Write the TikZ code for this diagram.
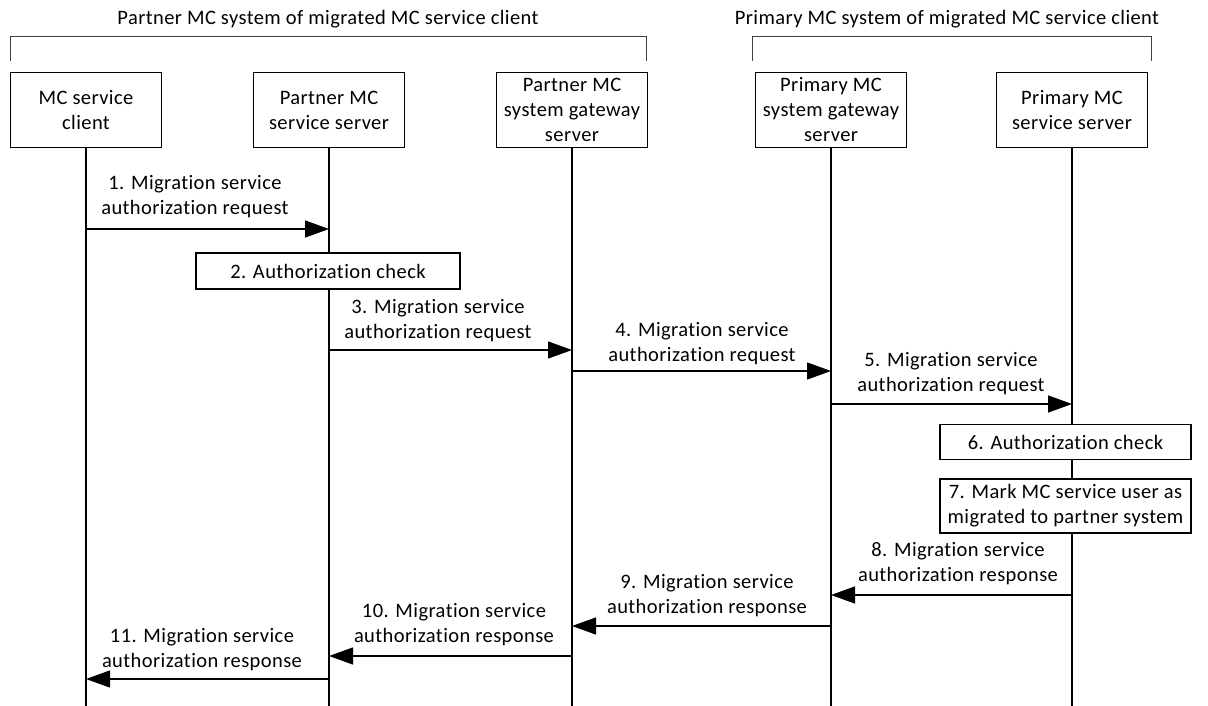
\documentclass[tikz,border=0pt]{standalone}
\usepackage{fontspec}
\setmainfont{Carlito}[Ligatures=NoCommon,LetterSpace=2]
\usetikzlibrary{arrows.meta}
\begin{document}
\begin{tikzpicture}[x=1pt,y=-1pt,
 every node/.style={font=\fontsize{20.5}{25}\selectfont},
 actor/.style={draw, line width=1.3pt, minimum width=151pt, minimum height=75pt, align=center, inner sep=0pt, fill=white},
 stepbox/.style={draw, line width=1.3pt, align=center, inner sep=0pt, fill=white},
 lbl/.style={align=center, inner sep=0pt},
 life/.style={line width=1.3pt},
 msg/.style={line width=1.3pt, -{Triangle[length=24pt,width=17pt]}},
 brace/.style={line width=0.8pt, draw=black!75}]
\useasboundingbox (0,0) rectangle (1208,706);
\coordinate (bot) at (0,706);

% titles and brackets
\node (t1) at (328,19) {Partner MC system of migrated MC service client};
\node (t2) at (947,19) {Primary MC system of migrated MC service client};
\draw[brace] (10,61) -- (10,36) -- (646,36) -- (646,61);
\draw[brace] (752,61) -- (752,36) -- (1151,36) -- (1151,61);

% actors
\node[actor] (a1) at (86,110) {MC service\\client};
\node[actor] (a2) at (329,110) {Partner MC\\service server};
\node[actor] (a3) at (572,110) {\raisebox{-2pt}{\parbox{150pt}{\centering Partner MC\\system gateway\\server}}};
\node[actor] (a4) at (831,110) {\raisebox{-2pt}{\parbox{150pt}{\centering Primary MC\\system gateway\\server}}};
\node[actor] (a5) at (1072,110) {Primary MC\\service server};

% lifelines
\foreach \n in {a1,a2,a3,a4,a5}{\draw[life] (\n.south) -- (\n.south |- bot);}

% messages
\draw[msg] (a1.south |- 0,229) -- (a2.south |- 0,229);
\node[lbl] (m1) at (195,197) {1. Migration service\\authorization request};

\node[stepbox, minimum width=264pt, minimum height=36pt] (s2) at (328,271) {2. Authorization check};

\draw[msg] (a2.south |- 0,350) -- (a3.south |- 0,350);
\node[lbl] (m3) at (438,321) {3. Migration service\\authorization request};

\draw[msg] (a3.south |- 0,371) -- (a4.south |- 0,371);
\node[lbl] (m4) at (702,344) {4. Migration service\\authorization request};

\draw[msg] (a4.south |- 0,404) -- (a5.south |- 0,404);
\node[lbl] (m5) at (951,374) {5. Migration service\\authorization request};

\node[stepbox, minimum width=251pt, minimum height=35pt] (s6) at (1065.5,442) {6. Authorization check};
\node[stepbox, minimum width=251pt, minimum height=54pt] (s7) at (1065.5,506) {7. Mark MC service user as\\migrated to partner system};

\draw[msg] (a5.south |- 0,595) -- (a4.south |- 0,595);
\node[lbl] (m8) at (958,564) {8. Migration service\\authorization response};

\draw[msg] (a4.south |- 0,626) -- (a3.south |- 0,626);
\node[lbl] (m9) at (707,596) {9. Migration service\\authorization response};

\draw[msg] (a3.south |- 0,656) -- (a2.south |- 0,656);
\node[lbl] (m10) at (454,625) {10. Migration service\\authorization response};

\draw[msg] (a2.south |- 0,679) -- (a1.south |- 0,679);
\node[lbl] (m11) at (202,650) {11. Migration service\\authorization response};
\end{tikzpicture}
\end{document}
